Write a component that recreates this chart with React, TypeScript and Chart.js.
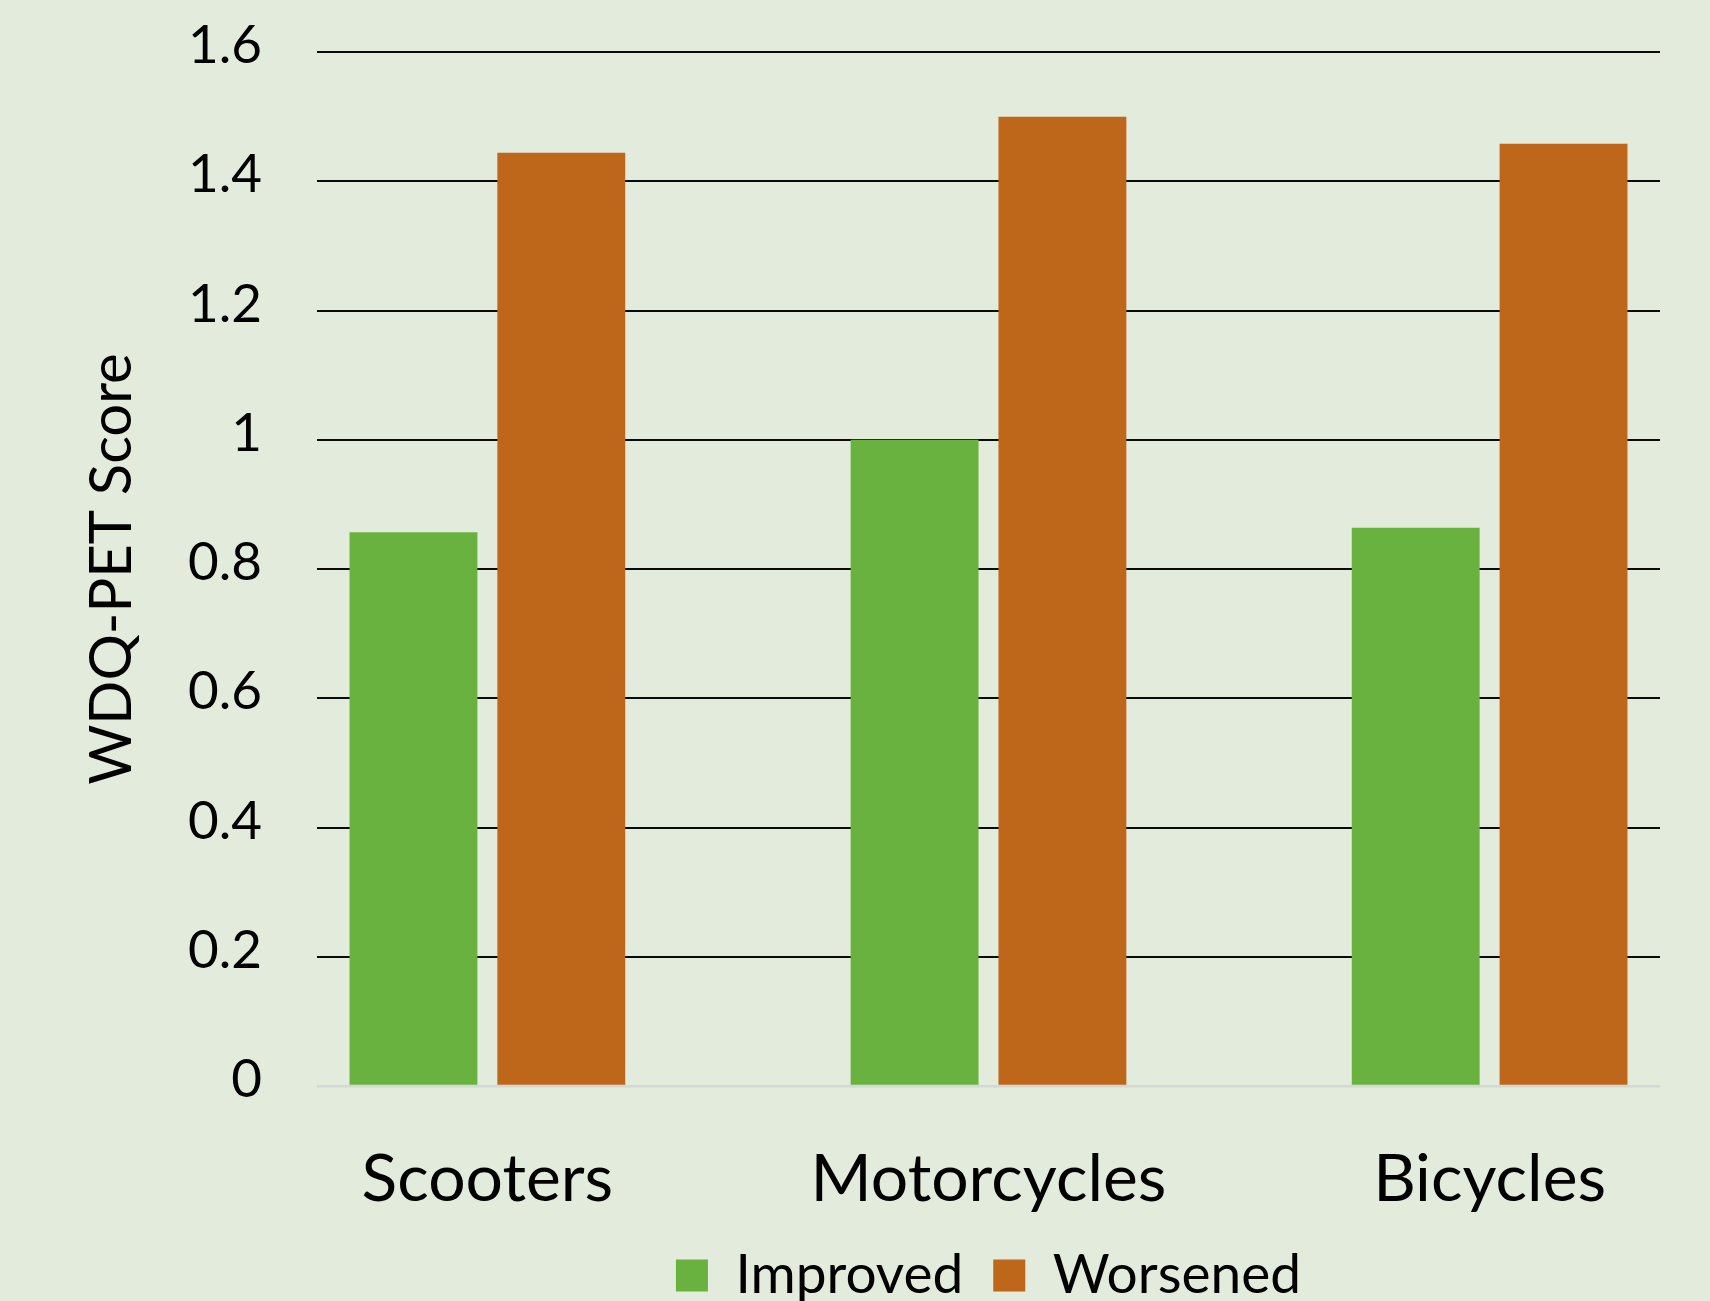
import { useEffect, useRef } from 'react';
import { Chart, registerables } from 'chart.js';

Chart.register(...registerables);

// Vehicle categories and the mean WDQ-PET score per outcome group
const categories = ['Scooters', 'Motorcycles', 'Bicycles'];
const improved = [0.857, 1.0, 0.864];
const worsened = [1.444, 1.5, 1.458];
const seriesNames = ['Improved', 'Worsened'];
const yTickValues = [0, 0.2, 0.4, 0.6, 0.8, 1, 1.2, 1.4, 1.6];
const yAxisTitle = 'WDQ-PET Score';

const BG = '#E2EBDC';
const GREEN = '#6AB23F';
const ORANGE = '#BE6619';
const FONT = 'Lato, "Open Sans", sans-serif';

const WIDTH = 1710;
const HEIGHT = 1313;

export default function App() {
  const ref = useRef<HTMLCanvasElement>(null);

  useEffect(() => {
    const canvas = ref.current;
    if (!canvas) return;
    const chart = new Chart(canvas, {
      type: 'bar',
      data: {
        datasets: [
          {
            label: seriesNames[0],
            data: categories.map((_, i) => ({ x: i, y: improved[i] })),
            backgroundColor: GREEN,
            borderWidth: 0,
          },
          {
            label: seriesNames[1],
            data: categories.map((_, i) => ({ x: i, y: worsened[i] })),
            backgroundColor: ORANGE,
            borderWidth: 0,
          },
        ],
      },
      options: {
        responsive: false,
        animation: false,
        devicePixelRatio: 1,
        layout: { padding: { top: 52, left: 77, right: 50, bottom: 0 } },
        datasets: { bar: { categoryPercentage: 0.59, barPercentage: 0.865 } },
        scales: {
          x: {
            type: 'linear',
            min: -0.34,
            max: 2.34,
            offset: false,
            grid: { display: false, drawTicks: false, offset: false },
            border: { display: false },
            afterBuildTicks: (s: any) => {
              s.ticks = categories.map((_, i) => ({ value: i }));
            },
            afterFit: (s: any) => {
              // tick padding + one label line
              s.height = 132;
            },
            ticks: {
              callback: (v: any) => categories[Math.round(Number(v))] ?? '',
              font: { family: FONT, size: 66 },
              color: '#000',
              padding: 54,
              maxRotation: 0,
              autoSkip: false,
              includeBounds: false,
            },
          },
          y: {
            min: 0,
            max: 1.6,
            grid: {
              color: (c: any) => (c.tick && c.tick.value === 0 ? '#D3D7D8' : '#0A0A0A'),
              lineWidth: (c: any) => (c.tick && c.tick.value === 0 ? 2.5 : 2),
              drawTicks: false,
            },
            border: { display: false },
            afterBuildTicks: (s: any) => {
              s.ticks = yTickValues.map((v) => ({ value: v }));
            },
            afterFit: (s: any) => {
              s.width = 240;
              s.paddingTop = 0;
              s.paddingBottom = 0;
            },
            ticks: {
              callback: (v: any) => String(v),
              font: { family: FONT, size: 53 },
              color: '#000',
              padding: 55,
              labelOffset: -6,
            },
            title: {
              display: true,
              text: yAxisTitle,
              font: { family: FONT, size: 58 },
              color: '#000',
              padding: { top: 0, bottom: 0 },
            },
          },
        },
        plugins: {
          legend: {
            position: 'bottom',
            fullSize: false,
            labels: {
              boxWidth: 32,
              boxHeight: 32,
              padding: 30,
              color: '#000',
              font: { family: FONT, size: 55 },
            },
          },
          tooltip: { enabled: false },
        },
      },
    } as any);
    return () => chart.destroy();
  }, []);

  return (
    <div
      style={{
        position: 'fixed',
        left: 0,
        top: 0,
        width: WIDTH,
        height: 1301,
        overflow: 'hidden',
        background: BG,
      }}
    >
      <canvas ref={ref} width={WIDTH} height={HEIGHT} style={{ display: 'block' }} />
    </div>
  );
}
